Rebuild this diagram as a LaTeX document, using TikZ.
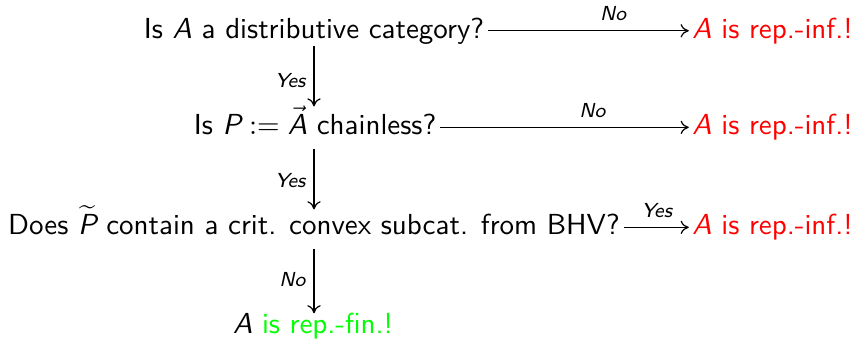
\documentclass[tikz,border=0pt]{standalone}
\usepackage{amsmath}
\usetikzlibrary{arrows.meta}
\renewcommand\familydefault{\sfdefault}
\begin{document}
\begin{tikzpicture}[x=0.345pt,y=-0.345pt,
  q/.style={inner sep=0pt, text height=0.75em, text depth=0.25em, anchor=base, font=\sffamily},
  arr/.style={-{To[length=2.8pt,width=4.6pt]}, line width=0.42pt},
  harr/.style={arr, shorten <=1.2pt, shorten >=1.05pt},
  lab/.style={font=\sffamily\itshape\fontsize{7}{8.5}\selectfont, inner sep=0pt},
  inf/.style={q, text=red}]
\useasboundingbox (0,0) rectangle (854,341);
\node[q] (q1) at (314,38) {Is \textit{A} a distributive category?};
\node[q] (q2) at (315,134.6) {Is $\textit{P}\mathrel{:=}\vec{\textit{A}}$ chainless?};
\node[q] (q3) at (314,234.6) {Does $\widetilde{\textit{P}}$ contain a crit. convex subcat. from BHV?};
\node[q] (q4) at (313,333) {\textit{A} \textcolor{green}{is rep.-fin.!}};
\node[inf] (r1) at (772.5,38) {\textit{A} is rep.-inf.!};
\node[inf] (r2) at (772.5,134.6) {\textit{A} is rep.-inf.!};
\node[inf] (r3) at (772.5,234.6) {\textit{A} is rep.-inf.!};
\draw[harr] (q1.east) -- node[lab, pos=0.62, above=3.1pt] {No} (r1.west);
\draw[harr] (q2.east) -- node[lab, pos=0.61, above=3.1pt] {No} (r2.west);
\draw[harr] (q3.east) -- node[lab, pos=0.51, above=3.1pt] {Yes} (r3.west);
\draw[arr, shorten <=0pt, shorten >=2pt] (q1.south) -- node[lab, pos=0.53, left=2.75pt] {Yes} (q1.south |- q2.north);
\draw[arr, shorten <=2.1pt, shorten >=1pt] (q1.south |- q2.south) -- node[lab, pos=0.55, left=2.75pt] {Yes} (q1.south |- q3.north);
\draw[arr, shorten <=2.1pt, shorten >=-0.9pt] (q1.south |- q3.south) -- node[lab, pos=0.55, left=2.75pt] {No} (q1.south |- q4.north);
\end{tikzpicture}
\end{document}
